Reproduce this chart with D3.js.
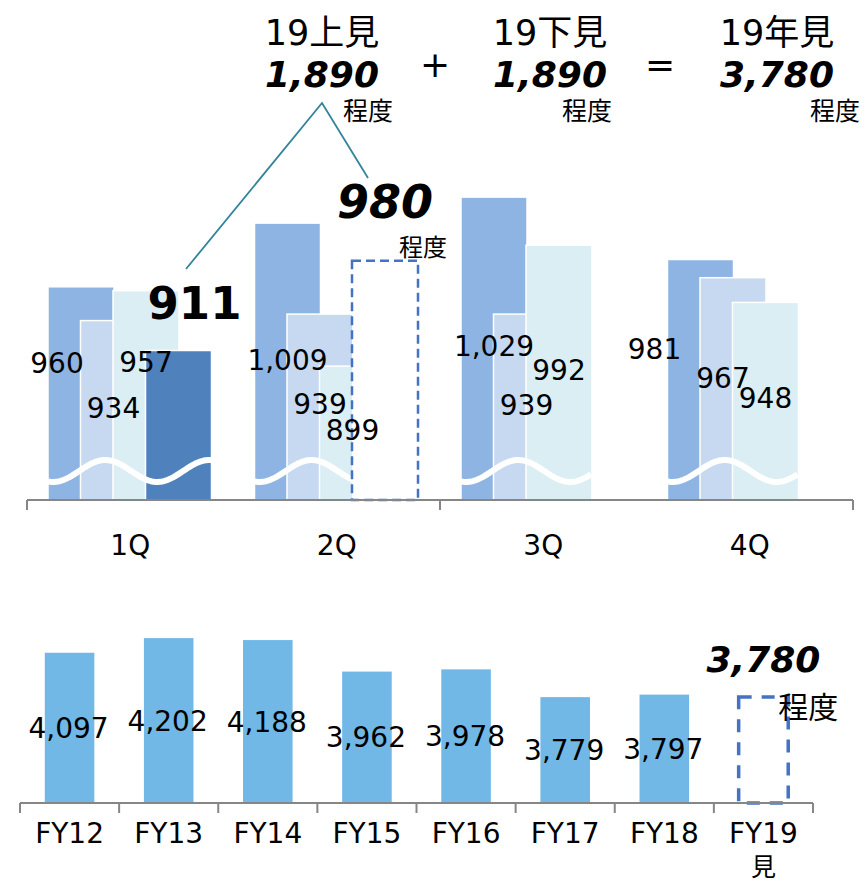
<!DOCTYPE html>
<html>
<head>
<meta charset="utf-8">
<script src="https://cdn.jsdelivr.net/npm/d3@7"></script>
<style>
  body { margin: 0; background: #fff; }
  text { font-family: "DejaVu Sans", "Noto Sans CJK JP", sans-serif; fill: #000; }
</style>
</head>
<body>
<div id="chart"></div>
<script>
// ---- data ----
var quarters = ["1Q", "2Q", "3Q", "4Q"];
var fy16 = [960, 1009, 1029, 981];
var fy17 = [934, 939, 939, 967];
var fy18 = [957, 899, 992, 948];
var fy19 = [911, null, null, null];
var fy19Forecast = [null, 980, null, null];

var years = ["FY12", "FY13", "FY14", "FY15", "FY16", "FY17", "FY18", "FY19"];
var annual = [4097, 4202, 4188, 3962, 3978, 3779, 3797, null];
var annualForecast = [null, null, null, null, null, null, null, 3780];

var summaryHeads = ["19上見", "19下見", "19年見"];
var summaryValues = ["1,890", "1,890", "3,780"];
var summaryOps = ["+", "="];

// label nudges (px) relative to bar centre / bar top
var labelDx = [[-24, 0, 0, -46], [0, 0, 0, -10], [0, 0, 0, 0]];
var labelDy = [[86, 147, 159, 99], [97, 100, 101, 110], [81, 74, 135, 106]];

var W = 867, H = 882;
var svg = d3.select("#chart").append("svg")
    .attr("width", W)
    .attr("height", H);

// ---- top: quarterly chart ----
var base = 500;
var x = d3.scaleBand().domain(quarters).range([27, 853]);
var y = d3.scaleLinear().domain([796, 1050]).range([base, base - 254 * 1.3]);
var barW = 66, barStep = 32.5, barPad = 21;

var series = [
    { values: fy16, color: "#8EB4E3" },
    { values: fy17, color: "#C6D9F1" },
    { values: fy18, color: "#DBEEF4" },
    { values: fy19, color: "#4F81BD" }
];

series.forEach(function(s, i) {
    svg.append("g").selectAll("rect")
        .data(quarters.map(function(q, j) { return { q: q, v: s.values[j] }; })
                      .filter(function(d) { return d.v != null; }))
        .enter().append("rect")
        .attr("x", function(d) { return x(d.q) + barPad + i * barStep; })
        .attr("y", function(d) { return y(d.v); })
        .attr("width", barW)
        .attr("height", function(d) { return base - y(d.v); })
        .attr("fill", s.color)
        .attr("stroke", "#fff")
        .attr("stroke-width", 1.5);
});

// wavy break line across each group
quarters.forEach(function(q, j) {
    var last = 0;
    series.forEach(function(s, i) { if (s.values[j] != null) last = i; });
    var x0 = x(q) + barPad, x1 = x(q) + barPad + last * barStep + barW;
    var pts = d3.range(x0, x1 + 1, 2).map(function(px) {
        return [px, 471 - 11 * Math.sin(2 * Math.PI * (px - x0) / 104 - 1.885)];
    });
    svg.append("path")
        .attr("d", d3.line()(pts))
        .attr("fill", "none")
        .attr("stroke", "#fff")
        .attr("stroke-width", 6);
});

// forecast box (2Q)
quarters.forEach(function(q, j) {
    var v = fy19Forecast[j];
    if (v == null) return;
    var bx = x(q) + barPad + 3 * barStep;
    svg.append("rect")
        .attr("x", bx).attr("y", y(v))
        .attr("width", barW).attr("height", base - y(v))
        .attr("fill", "#fff")
        .attr("stroke", "#4472C4")
        .attr("stroke-width", 2.5)
        .attr("stroke-dasharray", "9,5");
    svg.append("text")
        .attr("x", bx + barW / 2).attr("y", y(v) - 43)
        .attr("text-anchor", "middle")
        .style("font-size", "46px").style("font-weight", "bold").style("font-style", "italic")
        .text(d3.format(",")(v));
    svg.append("text")
        .attr("x", bx + barW + 29).attr("y", y(v) - 5)
        .attr("text-anchor", "end")
        .style("font-size", "24px")
        .text("程度");
});

// value labels
series.slice(0, 3).forEach(function(s, i) {
    s.values.forEach(function(v, j) {
        var cx = x(quarters[j]) + barPad + i * barStep + barW / 2;
        svg.append("text")
            .attr("x", cx + labelDx[i][j])
            .attr("y", y(v) + labelDy[i][j])
            .attr("text-anchor", "middle")
            .style("font-size", "28px")
            .text(d3.format(",")(v));
    });
});
fy19.forEach(function(v, j) {
    if (v == null) return;
    var cx = x(quarters[j]) + barPad + 3 * barStep + barW / 2;
    svg.append("text")
        .attr("x", cx + 16).attr("y", y(v) - 32)
        .attr("text-anchor", "middle")
        .style("font-size", "45px").style("font-weight", "bold")
        .text(v);
});

// axis
svg.append("line")
    .attr("x1", 27).attr("x2", 853).attr("y1", base).attr("y2", base)
    .attr("stroke", "#868686").attr("stroke-width", 2);
[quarters[0], quarters[2]].forEach(function(q) {
    svg.append("line")
        .attr("x1", x(q)).attr("x2", x(q)).attr("y1", base).attr("y2", base + 10)
        .attr("stroke", "#868686").attr("stroke-width", 2);
});
svg.append("line")
    .attr("x1", x.range()[1]).attr("x2", x.range()[1]).attr("y1", base).attr("y2", base + 10)
    .attr("stroke", "#868686").attr("stroke-width", 2);

svg.append("g").selectAll("text")
    .data(quarters).enter().append("text")
    .attr("x", function(d) { return x(d) + x.bandwidth() / 2; })
    .attr("y", 555)
    .attr("text-anchor", "middle")
    .style("font-size", "28px")
    .text(function(d) { return d; });

// summary header
var sumX = [322, 550, 777];
var teidoX = [393, 612, 860];
summaryHeads.forEach(function(t, i) {
    svg.append("text").attr("x", sumX[i]).attr("y", 45)
        .attr("text-anchor", "middle").style("font-size", "35px").text(t);
    svg.append("text").attr("x", sumX[i]).attr("y", 87)
        .attr("text-anchor", "middle")
        .style("font-size", "36px").style("font-weight", "bold").style("font-style", "italic")
        .text(summaryValues[i]);
    svg.append("text").attr("x", teidoX[i]).attr("y", 120)
        .attr("text-anchor", "end").style("font-size", "25px").text("程度");
});
var opX = [435, 660];
summaryOps.forEach(function(t, i) {
    svg.append("text").attr("x", opX[i]).attr("y", 77)
        .attr("text-anchor", "middle").style("font-size", "36px").text(t);
});

// connector from 1,890 to 911 and 980
svg.append("path")
    .attr("d", "M186,269L322,103L368,178")
    .attr("fill", "none")
    .attr("stroke", "#31849B")
    .attr("stroke-width", 1.8);

// ---- bottom: annual chart ----
var base2 = 803;
var x2 = d3.scaleBand().domain(years).range([20, 813]).paddingInner(0.5).paddingOuter(0.25);
var y2 = d3.scaleLinear().domain([3020, 4300]).range([base2, base2 - 1280 * 0.1395]);
var annualData = years.map(function(d, i) { return { year: d, v: annual[i], f: annualForecast[i] }; });

svg.append("g").selectAll("rect")
    .data(annualData.filter(function(d) { return d.v != null; }))
    .enter().append("rect")
    .attr("x", function(d) { return x2(d.year); })
    .attr("y", function(d) { return y2(d.v); })
    .attr("width", x2.bandwidth())
    .attr("height", function(d) { return base2 - y2(d.v); })
    .attr("fill", "#71B8E6");

svg.append("g").selectAll("text")
    .data(annualData.filter(function(d) { return d.v != null; }))
    .enter().append("text")
    .attr("x", function(d) { return x2(d.year) + x2.bandwidth() / 2 - 1; })
    .attr("y", function(d) { return (y2(d.v) + base2) / 2; })
    .attr("dy", "0.36em")
    .attr("text-anchor", "middle")
    .style("font-size", "28px")
    .text(function(d) { return d3.format(",")(d.v); });

annualData.filter(function(d) { return d.f != null; }).forEach(function(d) {
    var bx = x2(d.year);
    svg.append("rect")
        .attr("x", bx).attr("y", y2(d.f))
        .attr("width", x2.bandwidth()).attr("height", base2 - y2(d.f))
        .attr("fill", "none")
        .attr("stroke", "#4472C4")
        .attr("stroke-width", 3.5)
        .attr("stroke-dasharray", "13,10");
    svg.append("text")
        .attr("x", bx + x2.bandwidth() / 2).attr("y", y2(d.f) - 25)
        .attr("text-anchor", "middle")
        .style("font-size", "36px").style("font-weight", "bold").style("font-style", "italic")
        .text(d3.format(",")(d.f));
    svg.append("text")
        .attr("x", bx + x2.bandwidth() - 10).attr("y", y2(d.f) + 21)
        .style("font-size", "30px")
        .text("程度");
});

// bottom axis
var step2 = x2.step();
svg.append("line")
    .attr("x1", 20).attr("x2", 813).attr("y1", base2).attr("y2", base2)
    .attr("stroke", "#868686").attr("stroke-width", 2);
svg.append("g").selectAll("line")
    .data(d3.range(years.length + 1)).enter().append("line")
    .attr("x1", function(i) { return 20 + i * step2; })
    .attr("x2", function(i) { return 20 + i * step2; })
    .attr("y1", base2).attr("y2", base2 + 10)
    .attr("stroke", "#868686").attr("stroke-width", 2);

svg.append("g").selectAll("text")
    .data(years).enter().append("text")
    .attr("x", function(d) { return x2(d) + x2.bandwidth() / 2; })
    .attr("y", 843)
    .attr("text-anchor", "middle")
    .style("font-size", "28px")
    .text(function(d) { return d; });
svg.append("text")
    .attr("x", x2("FY19") + x2.bandwidth() / 2)
    .attr("y", 876)
    .attr("text-anchor", "middle")
    .style("font-size", "25px")
    .text("見");
</script>
</body>
</html>
